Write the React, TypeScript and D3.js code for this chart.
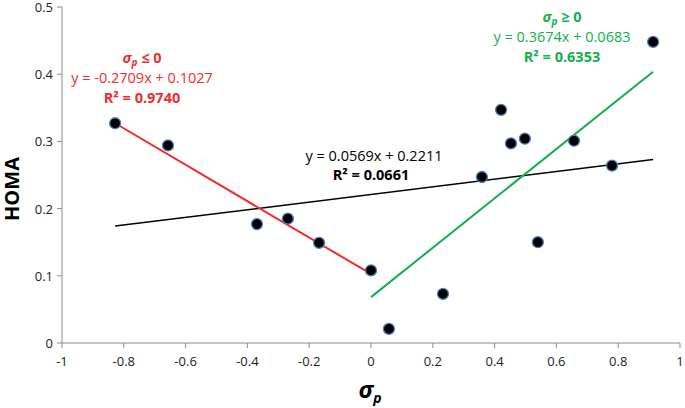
import React from "react";
import * as d3 from "d3";

const xs = [-0.828, -0.657, -0.369, -0.269, -0.168, 0.0, 0.058, 0.233, 0.359, 0.421, 0.453, 0.498, 0.54, 0.657, 0.78, 0.913];
const ys = [0.327, 0.294, 0.177, 0.185, 0.149, 0.108, 0.021, 0.073, 0.247, 0.347, 0.297, 0.304, 0.15, 0.301, 0.264, 0.448];
const xTicks = [-1, -0.8, -0.6, -0.4, -0.2, 0, 0.2, 0.4, 0.6, 0.8, 1];
const yTicks = [0, 0.1, 0.2, 0.3, 0.4, 0.5];
const fits = [
  { slope: 0.0569, intercept: 0.2211, x0: -0.828, x1: 0.913, color: "#000000" },
  { slope: -0.2709, intercept: 0.1027, x0: -0.828, x1: 0, color: "#ef2d2d" },
  { slope: 0.3674, intercept: 0.0683, x0: 0, x1: 0.913, color: "#12b050" },
];

export default function App() {
  const W = 685, H = 408;
  const x = d3.scaleLinear().domain([-1, 1]).range([62, 680]);
  const y = d3.scaleLinear().domain([0, 0.5]).range([343, 7]);
  const font = "'Open Sans', 'Liberation Sans', sans-serif";
  const axisColor = "#8c8c8c";
  const fs = 14.5;
  return (
    <svg width={W} height={H} style={{ position: "absolute", left: 0, top: 0 }} fontFamily={font}>
      <rect width={W} height={H} fill="#fff" />
      <line x1={x(-1)} x2={x(1)} y1={y(0)} y2={y(0)} stroke={axisColor} strokeWidth={1} />
      <line x1={x(-1)} x2={x(-1)} y1={y(0)} y2={y(0.5)} stroke={axisColor} strokeWidth={1} />
      {xTicks.map((t) => (
        <g key={"xt" + t}>
          <line x1={x(t)} x2={x(t)} y1={y(0)} y2={y(0) + 5} stroke={axisColor} />
          <text x={x(t)} y={y(0) + 23} textAnchor="middle" fontSize={13} fill="#222">{t}</text>
        </g>
      ))}
      {yTicks.map((t) => (
        <g key={"yt" + t}>
          <line x1={x(-1) - 5} x2={x(-1)} y1={y(t)} y2={y(t)} stroke={axisColor} />
          <text x={x(-1) - 9} y={y(t) + 5} textAnchor="end" fontSize={13} fill="#222">{t}</text>
        </g>
      ))}
      {fits.map((f, i) => (
        <line key={"f" + i} x1={x(f.x0)} x2={x(f.x1)} y1={y(f.slope * f.x0 + f.intercept)} y2={y(f.slope * f.x1 + f.intercept)} stroke={f.color} strokeWidth={i === 0 ? 1.5 : 2} />
      ))}
      {xs.map((v, i) => (
        <circle key={"p" + i} cx={x(v)} cy={y(ys[i])} r={5.5} fill="#000" stroke="#4f81bd" strokeWidth={1.3} />
      ))}
      <g fill="#ef2d2d" textAnchor="middle" fontSize={fs}>
        <text x={142} y={63} fontWeight="bold"><tspan fontStyle="italic">σ</tspan><tspan fontStyle="italic" fontSize={10} dy={3}>p</tspan><tspan dy={-3}> ≤ 0</tspan></text>
        <text x={142} y={83}>y = -0.2709x + 0.1027</text>
        <text x={142} y={103} fontWeight="bold">R² = 0.9740</text>
      </g>
      <g fill="#12b050" textAnchor="middle" fontSize={fs}>
        <text x={562} y={22} fontWeight="bold"><tspan fontStyle="italic">σ</tspan><tspan fontStyle="italic" fontSize={10} dy={3}>p</tspan><tspan dy={-3}> ≥ 0</tspan></text>
        <text x={562} y={42}>y = 0.3674x + 0.0683</text>
        <text x={562} y={62} fontWeight="bold">R² = 0.6353</text>
      </g>
      <g fill="#000" textAnchor="middle" fontSize={fs}>
        <text x={374} y={161}>y = 0.0569x + 0.2211</text>
        <text x={371} y={180} fontWeight="bold">R² = 0.0661</text>
      </g>
      <text transform={`translate(19,189) rotate(-90)`} textAnchor="middle" fontSize={20} fontWeight="bold" fill="#000">HOMA</text>
      <text x={370} y={398} textAnchor="middle" fontSize={24} fontWeight="bold" fontStyle="italic" fill="#000">σ<tspan fontSize={14} dy={5}>p</tspan></text>
    </svg>
  );
}
